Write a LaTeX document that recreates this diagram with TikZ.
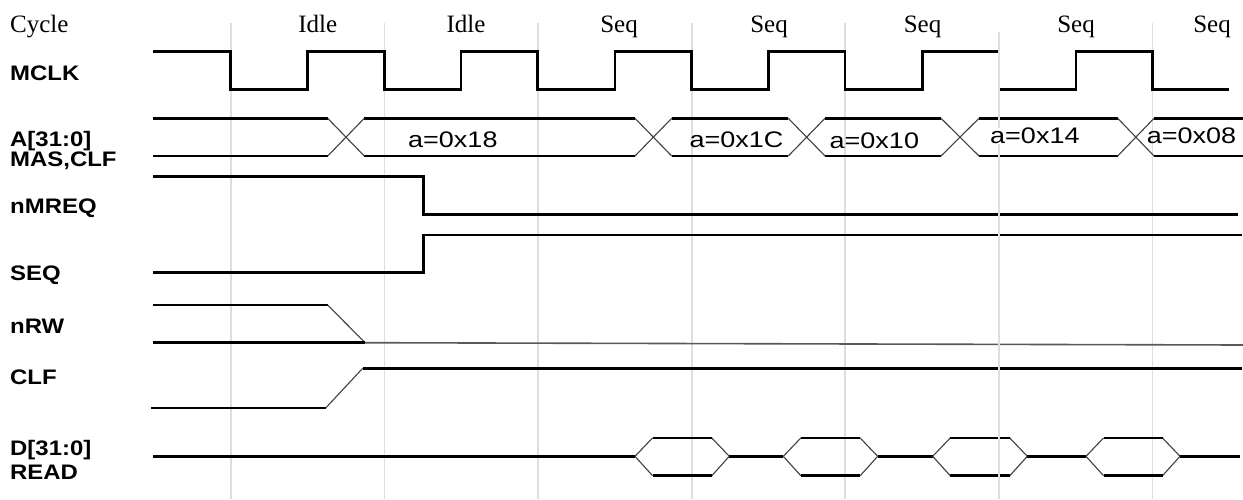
\documentclass[tikz,border=0pt]{standalone}
\usepackage{fontspec}
\setmainfont{Liberation Serif}
\newfontfamily\lblfont[FakeStretch=1.14]{Liberation Sans}
\newfontfamily\busfont[FakeStretch=1.2]{Liberation Sans}
\begin{document}
\begin{tikzpicture}[x=1pt,y=-1pt,
  sig/.style={line width=2.6pt, line join=miter, line cap=butt},
  edg/.style={line width=1.1pt, black!75},
  gridl/.style={line width=1.6pt, black!13},
  lbl/.style={anchor=base west, inner sep=0pt, font=\lblfont\bfseries\fontsize{21}{21}\selectfont},
  cyc/.style={anchor=base, inner sep=0pt, font=\fontsize{25}{25}\selectfont},
  bus/.style={anchor=base west, inner sep=0pt, font=\busfont\fontsize{22.5}{22.5}\selectfont}]
\useasboundingbox (0,0) rectangle (1243,499);
\fill[white] (0,0) rectangle (1243,499);
% grid
\foreach \gx in {230.7,384.3,537.7,691.7,845,1152.3}
  \draw[gridl] (\gx,22.7) -- (\gx,499);
% cycle labels
\node[cyc, anchor=base west] (cycle) at (10,32.3) {Cycle};
\node[cyc] (c1) at (317.7,32.3) {Idle};
\node[cyc] (c2) at (466,32.3) {Idle};
\node[cyc] (c3) at (619,32.5) {Seq};
\node[cyc] (c4) at (769,32.5) {Seq};
\node[cyc] (c5) at (922.5,32.5) {Seq};
\node[cyc] (c6) at (1076,32.5) {Seq};
\node[cyc] (c7) at (1212,32.5) {Seq};
% signal labels
\node[lbl] (lmclk) at (10,80) {MCLK};
\node[lbl] (la) at (10,146.5) {A[31:0]};
\node[lbl] (lmas) at (10,166.5) {MAS,CLF};
\node[lbl] (lnmreq) at (10,213) {nMREQ};
\node[lbl] (lseq) at (10,280.5) {SEQ};
\node[lbl] (lnrw) at (10,333) {nRW};
\node[lbl] (lclf) at (10,384) {CLF};
\node[lbl] (ld) at (10,455) {D[31:0]};
\node[lbl] (lread) at (10,479) {READ};
% MCLK
\draw[sig] (153.3,51.7) -- (230.7,51.7) -- (230.7,89.3) -- (307.7,89.3) -- (307.7,51.7)
  -- (384.3,51.7) -- (384.3,89.3) -- (461,89.3) -- (461,51.7)
  -- (537.7,51.7) -- (537.7,89.3) -- (615,89.3) -- (615,51.7)
  -- (691.7,51.7) -- (691.7,89.3) -- (768.3,89.3) -- (768.3,51.7)
  -- (845,51.7) -- (845,89.3) -- (922.3,89.3) -- (922.3,51.7)
  -- (999,51.7) -- (999,89.3) -- (1076,89.3) -- (1076,51.7)
  -- (1152.3,51.7) -- (1152.3,89.3) -- (1229.3,89.3);
% A bus
\foreach \a/\b in {153.3/327.7, 364.3/635, 671.7/788.3, 825/941, 979/1117.7, 1154/1243}{
  \draw[sig] (\a,118.3) -- (\b,118.3);
  \draw[sig] (\a,156) -- (\b,156);
}
\foreach \a/\b in {327.7/364.3, 635/671.7, 788.3/825, 941/979, 1117.7/1154}{
  \draw[edg] (\a,118.3) -- (\b,156);
  \draw[edg] (\a,156) -- (\b,118.3);
}
% nMREQ
\draw[sig] (153.3,176.7) -- (423.3,176.7) -- (423.3,214.3) -- (1238.3,214.3);
% SEQ
\draw[sig] (153.3,272.3) -- (423.3,272.3) -- (423.3,235) -- (1241.7,235);
% nRW
\draw[sig] (153.3,305) -- (327.7,305);
\draw[edg] (327.7,305) -- (365,342.7);
\draw[sig] (153.3,342.7) -- (365,342.7);
\draw[line width=1.6pt, black!65] (365,342.7) -- (1243,345);
% CLF
\draw[sig] (151,408) -- (325.7,408);
\draw[edg] (325.7,408) -- (362.7,368.3);
\draw[sig] (362.7,368.3) -- (1241.7,368.3);
% D bus
\draw[sig] (153.3,456.3) -- (635,456.3);
\foreach \a/\b in {729.3/783.3, 877.7/932.7, 1027.3/1086, 1180/1240}
  \draw[sig] (\a,456.3) -- (\b,456.3);
\foreach \l/\r in {635/729.3, 783.3/877.7, 932.7/1027.3, 1086/1180}{
  \draw[edg] (\l,456.3) -- ({\l+17.5},438);
  \draw[edg] (\l,456.3) -- ({\l+17.5},475.7);
  \draw[edg] (\r,456.3) -- ({\r-17.5},438);
  \draw[edg] (\r,456.3) -- ({\r-17.5},475.7);
  \draw[sig] ({\l+17.5},438) -- ({\r-17.5},438);
  \draw[sig] ({\l+17.5},475.7) -- ({\r-17.5},475.7);
}
% grid line drawn over the signals
\draw[gridl] (999,31.7) -- (999,499);
% bus values
\node[bus, fill=white, inner sep=0pt] (t4) at (990,143.3) {a=0x14};
\node[bus] (t1) at (408,147.3) {a=0x18};
\node[bus] (t2) at (689.3,147.3) {a=0x1C};
\node[bus] (t3) at (829.5,148.3) {a=0x10};
\node[bus] (t5) at (1146.7,143.3) {a=0x08};
\end{tikzpicture}
\end{document}
